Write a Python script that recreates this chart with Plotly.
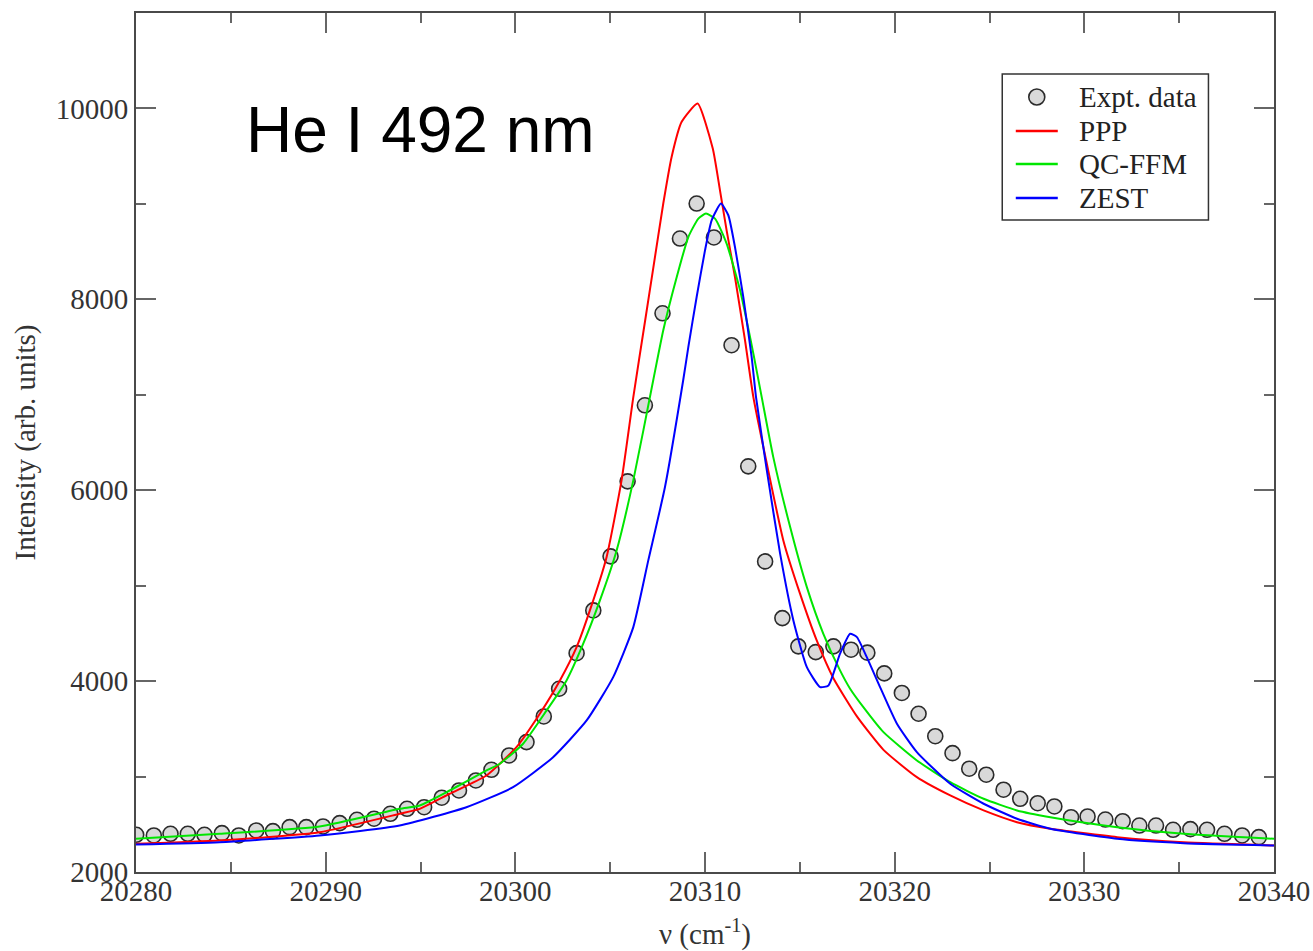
import plotly.graph_objects as go

# Experimental line profile (wavenumber in cm^-1, intensity in arb. units)
expt_nu = [20280.01, 20280.94, 20281.82, 20282.73, 20283.61, 20284.53, 20285.42, 20286.34,
           20287.22, 20288.10, 20288.98, 20289.86, 20290.74, 20291.65, 20292.55, 20293.41,
           20294.29, 20295.19, 20296.12, 20297.03, 20297.92, 20298.74, 20299.67, 20300.59,
           20301.50, 20302.31, 20303.23, 20304.11, 20305.02, 20305.92, 20306.83, 20307.76,
           20308.68, 20309.56, 20310.47, 20311.40, 20312.28, 20313.17, 20314.08, 20314.92,
           20315.84, 20316.77, 20317.70, 20318.56, 20319.45, 20320.38, 20321.26, 20322.14,
           20323.05, 20323.93, 20324.83, 20325.74, 20326.62, 20327.54, 20328.42, 20329.30,
           20330.17, 20331.11, 20332.02, 20332.90, 20333.78, 20334.68, 20335.59, 20336.47,
           20337.39, 20338.32, 20339.20]
expt_int = [2390, 2383, 2400, 2400, 2390, 2407, 2383, 2435, 2428, 2470, 2470, 2477, 2512,
            2547, 2558, 2610, 2662, 2679, 2778, 2854, 2959, 3071, 3221, 3361, 3630, 3920,
            4293, 4741, 5307, 6093, 6890, 7854, 8637, 9004, 8648, 7519, 6250, 5254, 4660,
            4364, 4304, 4364, 4329, 4298, 4081, 3876, 3658, 3423, 3245, 3082, 3019, 2862,
            2767, 2721, 2687, 2574, 2582, 2550, 2532, 2487, 2487, 2442, 2449, 2442, 2400,
            2383, 2365]

# PPP calculation
ppp_nu = [20280.0, 20284.41, 20289.68, 20293.90, 20294.96, 20296.54, 20298.48, 20300.06,
          20301.29, 20302.35, 20303.23, 20303.93, 20304.81, 20305.60, 20306.22, 20306.83,
          20307.27, 20307.80, 20308.24, 20308.77, 20309.61, 20310.41, 20310.79, 20311.14,
          20311.58, 20312.11, 20312.55, 20313.26, 20314.13, 20315.01, 20315.89, 20316.77,
          20318.01, 20319.41, 20321.17, 20322.93, 20324.69, 20326.45, 20328.21, 20331.73,
          20335.24, 20340.0]
ppp_int = [2296, 2330, 2417, 2610, 2662, 2820, 3011, 3308, 3658, 4007, 4356, 4741, 5299,
           6103, 6976, 7760, 8324, 9004, 9492, 9860, 10052, 9580, 9142, 8723, 8234, 7570,
           6976, 6278, 5474, 4916, 4426, 4030, 3630, 3280, 2994, 2802, 2645, 2522, 2453,
           2365, 2312, 2278]

# QC-FFM calculation
qcffm_nu = [20280.0, 20284.41, 20289.68, 20293.90, 20294.96, 20296.54, 20298.48, 20299.18,
            20300.41, 20301.65, 20302.70, 20303.58, 20304.46, 20305.34, 20306.22, 20307.27,
            20307.80, 20308.51, 20309.12, 20309.65, 20310.05, 20310.53, 20311.14, 20311.85,
            20312.55, 20312.99, 20313.60, 20314.49, 20315.37, 20316.24, 20317.12, 20317.65,
            20318.35, 20319.41, 20321.17, 20322.93, 20324.69, 20326.45, 20328.21, 20331.73,
            20335.24, 20340.0]
qcffm_int = [2348, 2400, 2477, 2662, 2697, 2854, 3064, 3134, 3344, 3693, 4007, 4392, 4846,
             5369, 6103, 7152, 7676, 8234, 8653, 8846, 8898, 8846, 8584, 8094, 7431, 6976,
             6347, 5614, 4985, 4496, 4112, 3920, 3727, 3465, 3169, 2941, 2767, 2645, 2574,
             2470, 2400, 2348]

# ZEST calculation
zest_nu = [20280.0, 20284.41, 20289.68, 20293.90, 20297.42, 20299.88, 20301.99, 20303.76,
           20305.16, 20306.22, 20307.01, 20307.89, 20308.85, 20309.12, 20309.56, 20310.00,
           20310.35, 20310.84, 20311.23, 20311.58, 20312.02, 20312.46, 20312.69, 20313.26,
           20313.96, 20314.66, 20315.37, 20316.07, 20316.51, 20317.12, 20317.65, 20318.01,
           20318.53, 20319.23, 20320.12, 20321.17, 20322.93, 20324.69, 20326.45, 20328.21,
           20331.73, 20335.24, 20340.0]
zest_int = [2288, 2312, 2383, 2487, 2679, 2889, 3203, 3588, 4042, 4566, 5265, 6033, 7152,
            7500, 8024, 8513, 8828, 9003, 8881, 8548, 8024, 7395, 6976, 6208, 5335, 4636,
            4146, 3937, 3955, 4287, 4496, 4461, 4251, 3937, 3553, 3256, 2924, 2715, 2558,
            2453, 2348, 2302, 2278]

x_ticks = [20280, 20290, 20300, 20310, 20320, 20330, 20340]
y_ticks = [2000, 4000, 6000, 8000, 10000]

legend_names = ["Expt. data", "PPP", "QC-FFM", "ZEST"]
line_colors = {"PPP": "#ff0000", "QC-FFM": "#00e600", "ZEST": "#0000ff"}

serif = "Liberation Serif, Times New Roman, serif"
axis_color = "#4a4a4a"
marker_fill = "#d9d9d9"
marker_edge = "#2b2b2b"

fig = go.Figure()

fig.add_trace(go.Scatter(
    x=expt_nu, y=expt_int, mode="markers", name=legend_names[0],
    marker=dict(symbol="circle", size=15, color=marker_fill,
                line=dict(color=marker_edge, width=1.6)),
))
for name, xs, ys in [("PPP", ppp_nu, ppp_int),
                     ("QC-FFM", qcffm_nu, qcffm_int),
                     ("ZEST", zest_nu, zest_int)]:
    fig.add_trace(go.Scatter(
        x=xs, y=ys, mode="lines", name=name,
        line=dict(color=line_colors[name], width=2, shape="spline", smoothing=0.5),
    ))

axis_common = dict(
    showline=True, linecolor=axis_color, linewidth=2, mirror="allticks",
    ticks="inside", ticklen=20, tickwidth=2, tickcolor="#666666",
    showgrid=False, zeroline=False, tickformat="d", automargin=False,
    tickfont=dict(family=serif, size=29, color="#333333"),
)

fig.update_xaxes(
    range=[20280, 20340], tickvals=x_ticks, ticklabelstandoff=-8,
    minor=dict(ticks="inside", ticklen=10, tickwidth=2, tickcolor="#666666", dtick=5,
               tick0=20280, showgrid=False),
    title=dict(text="ν (cm<sup>-1</sup>)", font=dict(family=serif, size=29, color="#333333"),
               standoff=24),
    **axis_common,
)
fig.update_yaxes(
    range=[2000, 11000], tickvals=y_ticks,
    minor=dict(ticks="inside", ticklen=10, tickwidth=2, tickcolor="#666666", dtick=1000,
               tick0=2000, showgrid=False),
    title=dict(text="Intensity (arb. units)", font=dict(family=serif, size=29, color="#333333"),
               standoff=12),
    **axis_common,
)

# Panel label
fig.add_annotation(
    text="He I 492 nm", xref="paper", yref="paper", x=0.0946, y=0.8637,
    xanchor="left", yanchor="middle", showarrow=False,
    font=dict(family="Liberation Sans, Arial, sans-serif", size=64, color="#000000"),
)

# Boxed legend in the upper right corner (paper coordinates)
box_x0, box_x1, box_y0, box_y1 = 0.7612, 0.9424, 0.7589, 0.9290
row_y = [0.9022, 0.8626, 0.8241, 0.7845]
sample_x0, sample_x1, text_x = 0.7731, 0.8100, 0.8272

fig.add_shape(type="rect", xref="paper", yref="paper",
              x0=box_x0, x1=box_x1, y0=box_y0, y1=box_y1,
              line=dict(color="#333333", width=1.5), fillcolor="white", layer="above")
fig.add_shape(type="circle", xref="paper", yref="paper",
              xsizemode="pixel", ysizemode="pixel",
              xanchor=(sample_x0 + sample_x1) / 2, yanchor=row_y[0],
              x0=-8, x1=8, y0=-8, y1=8,
              fillcolor=marker_fill, line=dict(color=marker_edge, width=1.6), layer="above")
for name, yy in zip(legend_names[1:], row_y[1:]):
    fig.add_shape(type="line", xref="paper", yref="paper",
                  x0=sample_x0, x1=sample_x1, y0=yy, y1=yy,
                  line=dict(color=line_colors[name], width=2.5), layer="above")
for name, yy in zip(legend_names, row_y):
    fig.add_annotation(
        text=name, xref="paper", yref="paper", x=text_x, y=yy,
        xanchor="left", yanchor="middle", showarrow=False,
        font=dict(family=serif, size=29, color="#222222"),
    )

fig.update_layout(
    width=1313, height=951,
    margin=dict(l=136, r=39, t=13, b=79),
    paper_bgcolor="white", plot_bgcolor="white",
    showlegend=False,
)

fig.write_html("out.html")
